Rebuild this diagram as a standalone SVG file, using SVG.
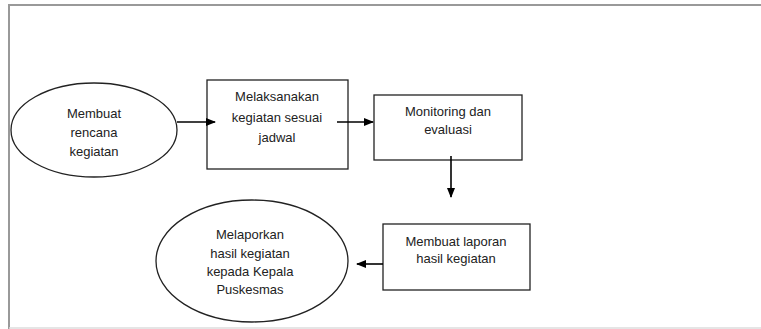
<svg xmlns="http://www.w3.org/2000/svg" width="761" height="329" viewBox="0 0 761 329">
<defs>
<marker id="ah" markerWidth="10" markerHeight="8" refX="9" refY="4" orient="auto" markerUnits="userSpaceOnUse">
<path d="M0,0 L10,4 L0,8 Z" fill="#000"/>
</marker>
<style>
.frame{stroke:#999;stroke-width:2;fill:none}
.shape{fill:#fff;stroke:#222;stroke-width:1.3}
.conn{stroke:#000;stroke-width:1.6;fill:none;marker-end:url(#ah)}
text{font-family:"Liberation Sans",Arial,sans-serif;font-size:13px;fill:#222;text-anchor:middle}
</style>
</defs>
<rect width="761" height="329" fill="#fff"/>
<path class="frame" d="M9,329 L9,5 L761,5"/>
<line x1="9" y1="328" x2="761" y2="328" stroke="#ddd" stroke-width="1.5"/>
<g id="node-membuat-rencana">
<ellipse class="shape" cx="94" cy="130" rx="83" ry="47"/>
<text x="94" y="118">Membuat</text>
<text x="94" y="137">rencana</text>
<text x="94" y="156">kegiatan</text>
</g>
<g id="node-melaksanakan">
<rect class="shape" x="207" y="80" width="141" height="89"/>
<text x="277" y="101">Melaksanakan</text>
<text x="277" y="122">kegiatan sesuai</text>
<text x="277" y="142">jadwal</text>
</g>
<g id="node-monitoring">
<rect class="shape" x="374" y="95" width="148" height="65"/>
<text x="448" y="116">Monitoring dan</text>
<text x="448" y="134">evaluasi</text>
</g>
<g id="node-membuat-laporan">
<rect class="shape" x="383" y="224" width="147" height="66"/>
<text x="456" y="246">Membuat laporan</text>
<text x="456" y="263">hasil kegiatan</text>
</g>
<g id="node-melaporkan">
<ellipse class="shape" cx="252" cy="261" rx="96" ry="61"/>
<text x="250" y="239">Melaporkan</text>
<text x="250" y="258">hasil kegiatan</text>
<text x="250" y="276">kepada Kepala</text>
<text x="250" y="294">Puskesmas</text>
</g>
<g id="connectors">
<line class="conn" x1="177" y1="122" x2="215" y2="122"/>
<line class="conn" x1="337" y1="122" x2="373" y2="122"/>
<line class="conn" x1="451" y1="156" x2="451" y2="197"/>
<line class="conn" x1="383" y1="264" x2="357" y2="264"/>
</g>
</svg>
